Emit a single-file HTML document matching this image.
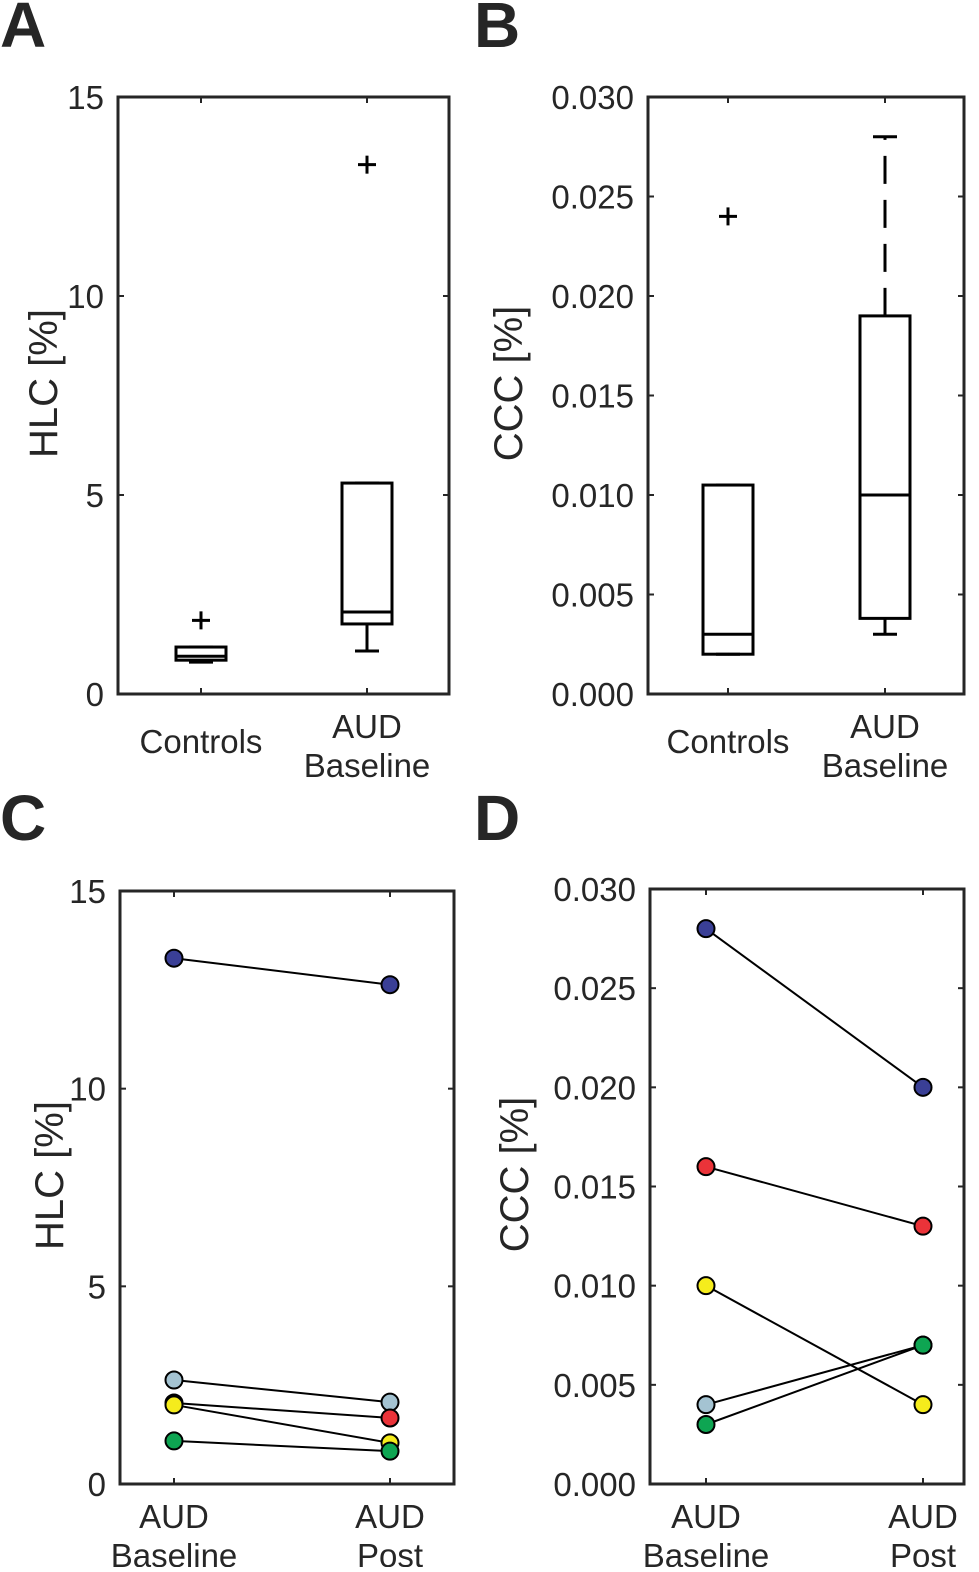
<!DOCTYPE html>
<html><head><meta charset="utf-8"><style>
body{margin:0;background:#fff;}
svg text{font-family:"Liberation Sans",sans-serif;fill:#262626;}
</style></head><body>
<svg id="fig" width="979" height="1567" xmlns="http://www.w3.org/2000/svg"></svg>
<script>
// Panel A data (HLC boxplots)
const boxCatsA = ["Controls", "AUD Baseline"];
const boxStatsA = [ // [lowWhisker, q1, median, q3, highWhisker]
  [0.8, 0.85, 0.95, 1.18, 1.18],
  [1.08, 1.76, 2.06, 5.3, 5.3]
];
const outliersA = [[1.85], [13.3]];
const ticksA = [0, 5, 10, 15];
// Panel B data (CCC boxplots)
const boxCatsB = ["Controls", "AUD Baseline"];
const boxStatsB = [
  [0.002, 0.002, 0.003, 0.0105, 0.0105],
  [0.003, 0.0038, 0.010, 0.019, 0.028]
];
const outliersB = [[0.024], []];
const ticksB = [0, 0.005, 0.010, 0.015, 0.020, 0.025, 0.030];
// Panel C data (HLC paired)
const pairCats = ["AUD Baseline", "AUD Post"];
const subjColorsBase = ["#3a3f96", "#a4c3d2", "#111111", "#f5ec1c", "#0ea552"];
const subjColorsPost = ["#3a3f96", "#a4c3d2", "#ea3339", "#f5ec1c", "#0ea552"];
const hlcBaseline = [13.3, 2.63, 2.05, 2.0, 1.09];
const hlcPost = [12.63, 2.07, 1.67, 1.04, 0.83];
// Panel D data (CCC paired)
const dColors = ["#3a3f96", "#ea3339", "#f5ec1c", "#a4c3d2", "#0ea552"];
const cccBaseline = [0.028, 0.016, 0.010, 0.004, 0.003];
const cccPost = [0.020, 0.013, 0.004, 0.007, 0.007];

const NS = "http://www.w3.org/2000/svg";
const svg = document.getElementById("fig");
function el(tag, attrs, parent, txt){
  const e = document.createElementNS(NS, tag);
  for (const k in attrs) e.setAttribute(k, attrs[k]);
  if (txt !== undefined) e.textContent = txt;
  (parent || svg).appendChild(e);
  return e;
}
function panel(letter, lx, ly, box, yMax, ticks, fmt, ylabel, ylx, cats, catX, labLines){
  const g = el("g", {});
  
  
  const t = el("text", {x: lx, y: ly, "font-size": 64, "font-weight": "bold", fill: "#333"}, g, letter);
  
  
  const y = v => box.b - (v / yMax) * (box.b - box.t);
  const xs = catX;
  const r = el("rect", {x: box.l, y: box.t, width: box.r - box.l, height: box.b - box.t, fill: "none", stroke: "#262626", "stroke-width": 3}, g);
  
  
  ticks.forEach(v => {
    el("line", {x1: box.l, x2: box.l + 6, y1: y(v), y2: y(v), stroke: "#262626", "stroke-width": 2}, g);
    el("line", {x1: box.r, x2: box.r - 6, y1: y(v), y2: y(v), stroke: "#262626", "stroke-width": 2}, g);
    const tl = el("text", {x: box.l - 14, y: y(v) + 12, "font-size": 33, "text-anchor": "end"}, g, fmt(v));
    
    
  });
  xs.forEach((x, i) => {
    el("line", {x1: x, x2: x, y1: box.b, y2: box.b - 6, stroke: "#262626", "stroke-width": 2}, g);
    el("line", {x1: x, x2: x, y1: box.t, y2: box.t + 6, stroke: "#262626", "stroke-width": 2}, g);
    const lines = labLines[i];
    lines.forEach((s, j) => {
      const tl = el("text", {x: x, y: box.b + (lines.length === 1 ? 59 : 44 + j * 39), "font-size": 33, "text-anchor": "middle"}, g, s);
      
      
    });
  });
  const cy = (box.t + box.b) / 2 - 12;
  const yl = el("text", {x: ylx, y: cy, "font-size": 40, "text-anchor": "middle", transform: `rotate(-90 ${ylx} ${cy})`}, g, ylabel);
  
  
  return {g, y};
}
function boxes(p, xs, stats, outs, dashed){
  stats.forEach((s, i) => {
    const x = xs[i], w = 25;
    const g = el("g", {stroke: "#000", "stroke-width": 3, fill: "none"}, p.g);
    
    
    el("rect", {x: x - w, y: p.y(s[3]), width: 2 * w, height: p.y(s[1]) - p.y(s[3])}, g);
    el("line", {x1: x - w, x2: x + w, y1: p.y(s[2]), y2: p.y(s[2])}, g);
    const da = dashed ? {"stroke-dasharray": "28,16"} : {};
    el("line", Object.assign({x1: x, x2: x, y1: p.y(s[3]), y2: p.y(s[4])}, da), g);
    el("line", Object.assign({x1: x, x2: x, y1: p.y(s[1]), y2: p.y(s[0])}, da), g);
    el("line", {x1: x - 12, x2: x + 12, y1: p.y(s[4]), y2: p.y(s[4])}, g);
    el("line", {x1: x - 12, x2: x + 12, y1: p.y(s[0]), y2: p.y(s[0])}, g);
    outs[i].forEach(o => {
      const og = el("g", {}, g);
      
      
      el("line", {x1: x - 9, x2: x + 9, y1: p.y(o), y2: p.y(o)}, og);
      el("line", {x1: x, x2: x, y1: p.y(o) - 9, y2: p.y(o) + 9}, og);
    });
  });
}
function pairs(p, xs, base, post, cb, cp){
  base.forEach((v, i) => {
    const l = el("line", {x1: xs[0], y1: p.y(v), x2: xs[1], y2: p.y(post[i]), stroke: "#000", "stroke-width": 2}, p.g);
    
    
  });
  base.forEach((v, i) => {
    const c1 = el("circle", {cx: xs[0], cy: p.y(v), r: 8.5, fill: cb[i], stroke: "#000", "stroke-width": 2}, p.g);
    
    
  });
  post.forEach((v, i) => {
    const c2 = el("circle", {cx: xs[1], cy: p.y(v), r: 8.5, fill: cp[i], stroke: "#000", "stroke-width": 2}, p.g);
    
    
  });
}
const fInt = v => String(v), f3 = v => v.toFixed(3);
const pA = panel("A", 0, 47, {l: 118, r: 449, t: 97, b: 694}, 15, ticksA, fInt, "HLC [%]", 57, boxCatsA, [201, 367], [["Controls"], ["AUD", "Baseline"]]);
boxes(pA, [201, 367], boxStatsA, outliersA, false);
const pB = panel("B", 474, 47, {l: 648, r: 964, t: 97, b: 694}, 0.03, ticksB, f3, "CCC [%]", 522, boxCatsB, [728, 885], [["Controls"], ["AUD", "Baseline"]]);
boxes(pB, [728, 885], boxStatsB, outliersB, true);
const pC = panel("C", 0, 840, {l: 120, r: 454, t: 891, b: 1484}, 15, ticksA, fInt, "HLC [%]", 63, pairCats, [174, 390], [["AUD", "Baseline"], ["AUD", "Post"]]);
pairs(pC, [174, 390], hlcBaseline, hlcPost, subjColorsBase, subjColorsPost);
const pD = panel("D", 474, 840, {l: 650, r: 964, t: 889, b: 1484}, 0.03, ticksB, f3, "CCC [%]", 528, pairCats, [706, 923], [["AUD", "Baseline"], ["AUD", "Post"]]);
pairs(pD, [706, 923], cccBaseline, cccPost, dColors, dColors);
</script>
</body></html>
